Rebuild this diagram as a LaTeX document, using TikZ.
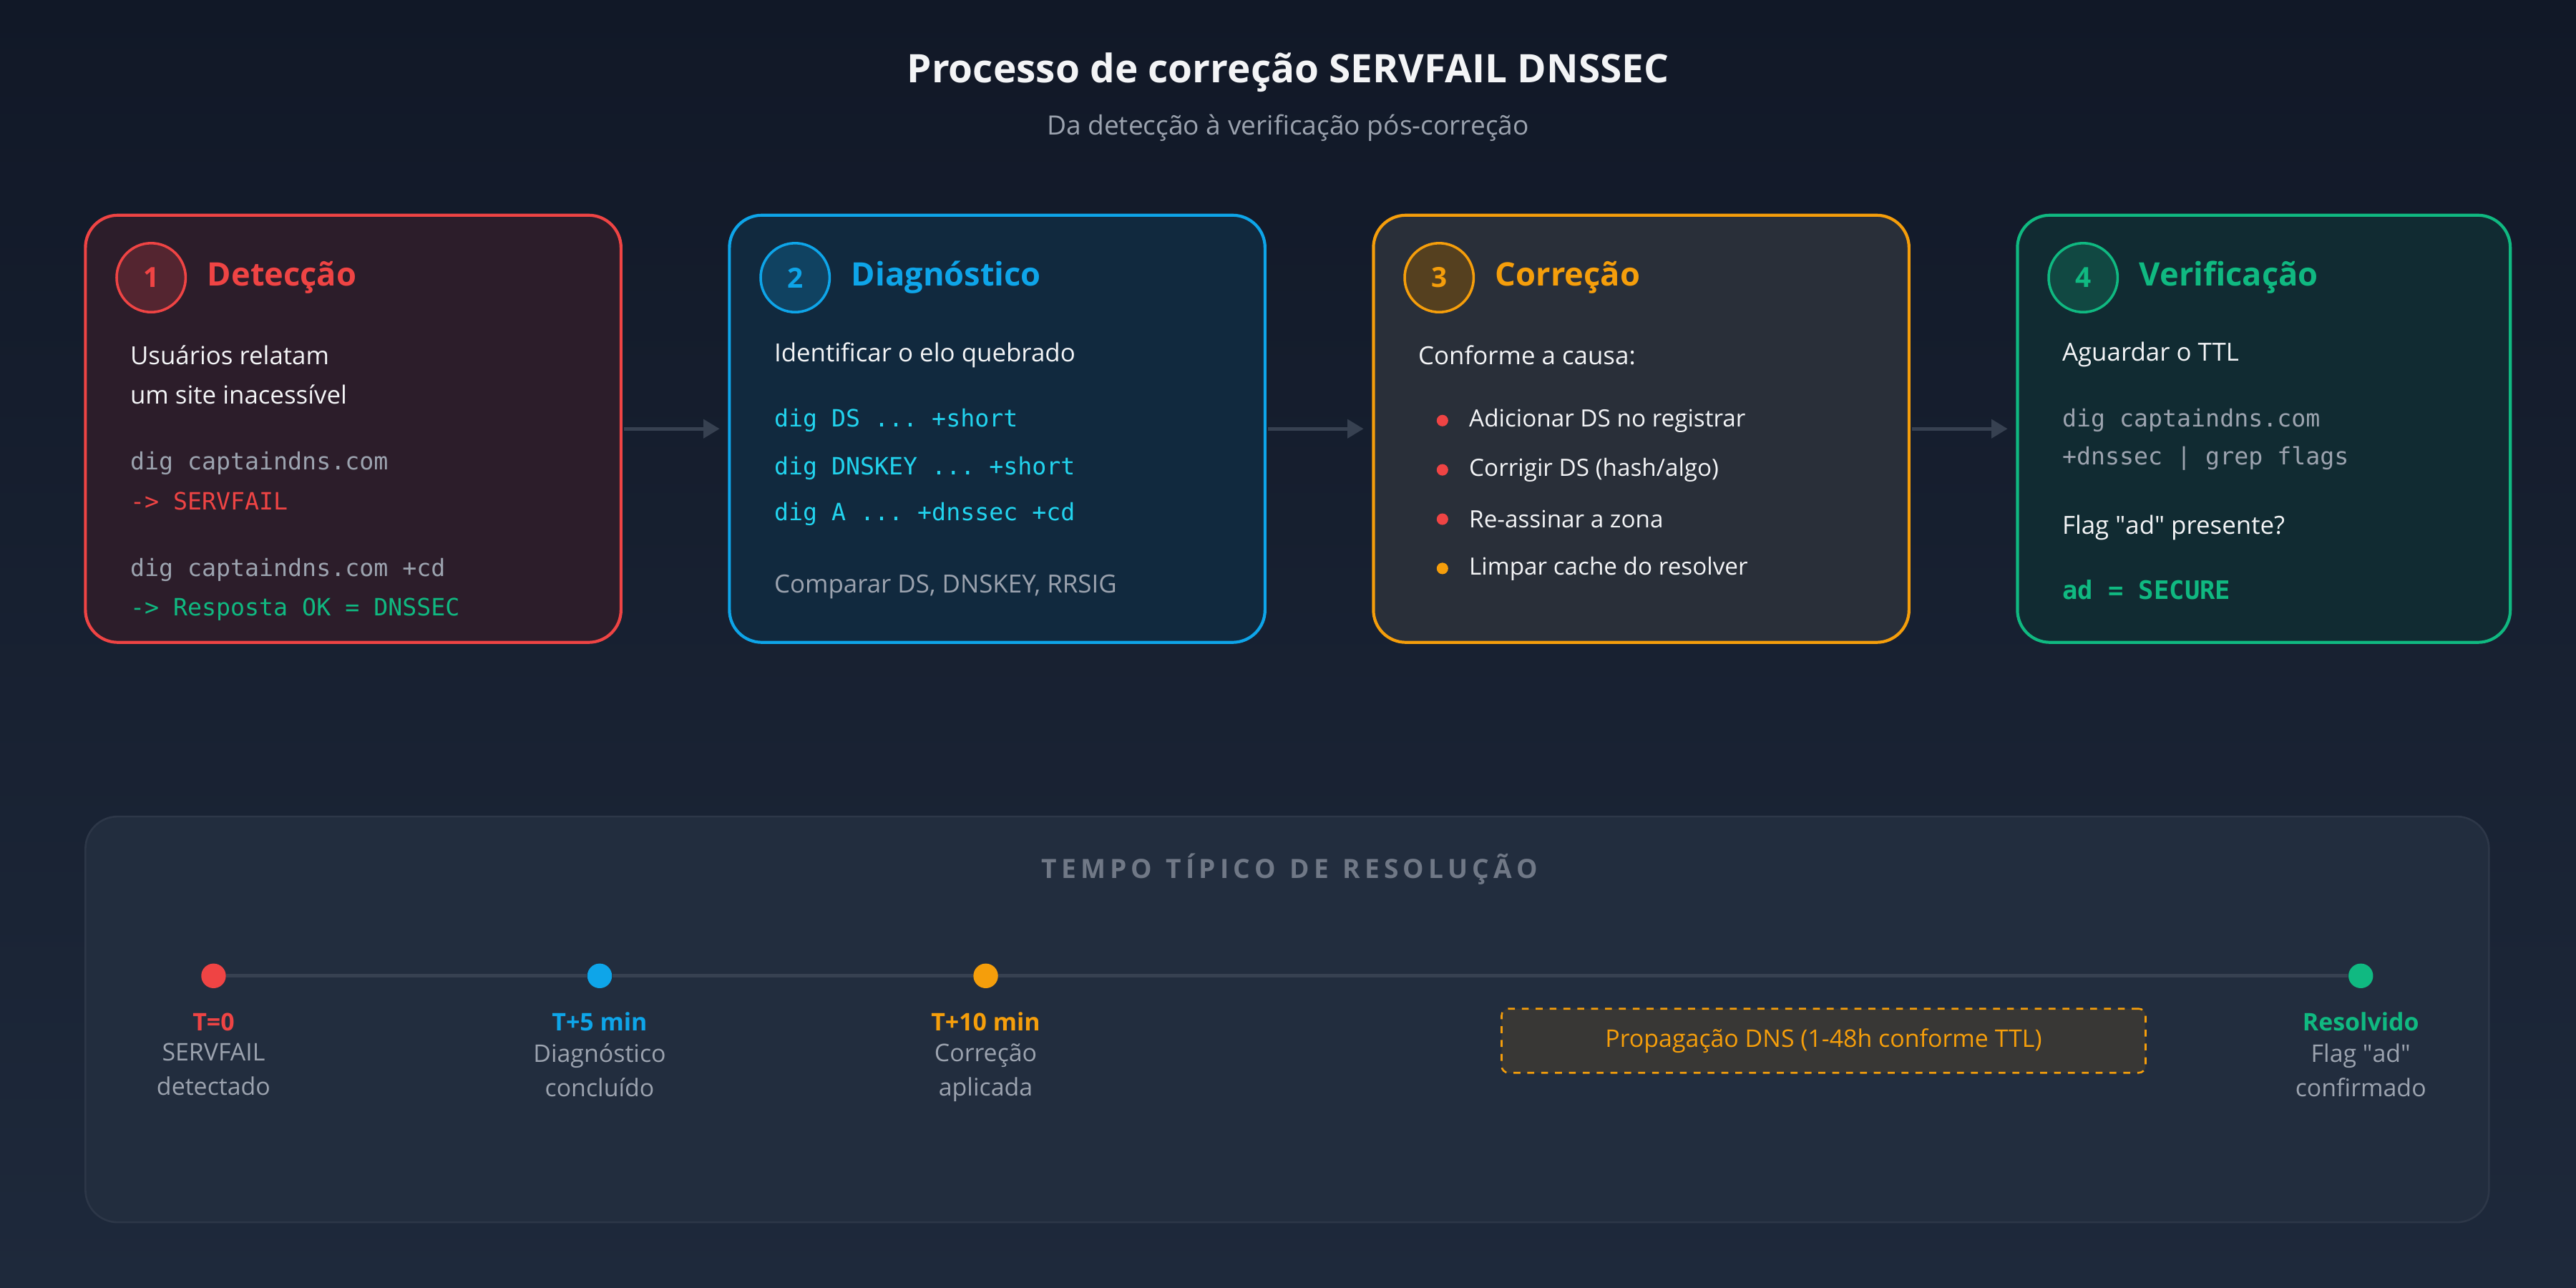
\documentclass[tikz,border=0pt]{standalone}
\usepackage{fontspec}
\setmainfont{Open Sans}
\setmonofont{DejaVu Sans Mono}
\usetikzlibrary{positioning,arrows.meta}

\definecolor{bgA}{HTML}{111827}
\definecolor{bgB}{HTML}{1E293B}
\definecolor{cRed}{HTML}{EF4444}
\definecolor{cBlue}{HTML}{0EA5E9}
\definecolor{cAmber}{HTML}{F59E0B}
\definecolor{cGreen}{HTML}{10B981}
\definecolor{cCyan}{HTML}{22D3EE}
\definecolor{txtW}{HTML}{F3F4F6}
\definecolor{txtG}{HTML}{9CA3AF}
\definecolor{lineG}{HTML}{374151}

\tikzset{
  step/.style={draw=#1, line width=1.3pt, rounded corners=14pt, fill=#1!12!bgA},
  badge/.style={circle, draw=#1, line width=1.1pt, fill=#1!30!bgA, minimum size=42*0.025cm,
    text=#1, font=\fontsize{12}{14}\selectfont\bfseries, inner sep=0pt},
  head/.style={anchor=west, text=#1, font=\fontsize{14}{16}\selectfont\bfseries, inner sep=0pt},
  body/.style={anchor=west, text=txtW, font=\fontsize{10.8}{13}\selectfont, inner sep=0pt},
  mono/.style={anchor=west, text=#1, font=\fontsize{10.3}{12}\ttfamily, inner sep=0pt},
  flow/.style={-{Triangle[length=7pt,width=8pt]}, draw=lineG, line width=1.5pt},
  dot/.style={circle, fill=#1, minimum size=15*0.025cm, inner sep=0pt},
  tlab/.style={text=#1, font=\fontsize{10.5}{12}\selectfont\bfseries, inner sep=0pt},
  tsub/.style={text=txtG, font=\fontsize{10.5}{15}\selectfont, align=center, inner sep=0pt},
}

\begin{document}
\begin{tikzpicture}[x=0.025cm,y=-0.025cm]
% background
\shade[top color=bgA, bottom color=bgB] (0,0) rectangle (1568,784);
\useasboundingbox (0,0) rectangle (1568,784);

% title
\node[text=txtW, font=\fontsize{17}{20}\selectfont\bfseries] (title) at (784,44) {Processo de correção SERVFAIL DNSSEC};
\node[text=txtG, font=\fontsize{11.5}{14}\selectfont] (subtitle) at (784,78) {Da detecção à verificação pós-correção};

%% STEP 1
\draw[step=cRed] (52,131) rectangle (378,391);
\node[badge=cRed] (b1) at (92,169) {1};
\node[head=cRed] (h1) at (126,169) {Detecção};
\node[body] (s1a) at (79,216) {Usuários relatam};
\node[body] (s1b) at (79,240) {um site inacessível};
\node[mono=txtG] (s1c) at (79,282) {dig captaindns.com};
\node[mono=cRed] (s1d) at (79,305) {-> SERVFAIL};
\node[mono=txtG] (s1e) at (79,347) {dig captaindns.com +cd};
\node[mono=cGreen] (s1f) at (79,371) {-> Resposta OK = DNSSEC};

%% STEP 2
\draw[step=cBlue] (444,131) rectangle (770,391);
\node[badge=cBlue] (b2) at (484,169) {2};
\node[head=cBlue] (h2) at (518,169) {Diagnóstico};
\node[body] (s2a) at (471,216) {Identificar o elo quebrado};
\node[mono=cCyan] (s2b) at (471,256) {dig DS ... +short};
\node[mono=cCyan] (s2c) at (471,285) {dig DNSKEY ... +short};
\node[mono=cCyan] (s2d) at (471,313) {dig A ... +dnssec +cd};
\node[body, text=txtG] (s2e) at (471,357) {Comparar DS, DNSKEY, RRSIG};

%% STEP 3
\draw[step=cAmber, fill=cAmber!5!bgB] (836,131) rectangle (1162,391);
\node[badge=cAmber] (b3) at (876,169) {3};
\node[head=cAmber] (h3) at (910,169) {Correção};
\node[body] (s3a) at (863,216) {Conforme a causa:};
\foreach \y/\c/\t [count=\i] in {256/cRed/Adicionar DS no registrar,
    286/cRed/{Corrigir DS (hash/algo)},
    316/cRed/Re-assinar a zona,
    346/cAmber/Limpar cache do resolver}{
  \node[dot=\c, minimum size=7*0.025cm] (d3\i) at (878,\y) {};
  \node[body, font=\fontsize{10.3}{12}\selectfont] (t3\i) at (894,\y) {\t};
}

%% STEP 4
\draw[step=cGreen] (1228,131) rectangle (1528,391);
\node[badge=cGreen] (b4) at (1268,169) {4};
\node[head=cGreen] (h4) at (1302,169) {Verificação};
\node[body] (s4a) at (1255,216) {Aguardar o TTL};
\node[mono=txtG] (s4b) at (1255,256) {dig captaindns.com};
\node[mono=txtG] (s4c) at (1255,279) {+dnssec | grep flags};
\node[body] (s4d) at (1255,321) {Flag \textquotedbl ad\textquotedbl\ presente?};
\node[mono=cGreen, font=\fontsize{11}{13}\ttfamily\bfseries] (s4e) at (1255,359) {ad = SECURE};

% flow arrows
\coordinate (a1) at (380,261); \coordinate (a2) at (438,261);
\coordinate (a3) at (772,261); \coordinate (a4) at (830,261);
\coordinate (a5) at (1164,261); \coordinate (a6) at (1222,261);
\draw[flow] (a1) -- (a2);
\draw[flow] (a3) -- (a4);
\draw[flow] (a5) -- (a6);

%% TIMELINE
\draw[draw=lineG!60!bgB, line width=0.8pt, rounded corners=14pt, fill=bgB!85!lineG] (52,497) rectangle (1515,744);
\node[text=txtG!65!bgB, font=\fontsize{11.5}{14}\selectfont\bfseries] (ttitle) at (785,529)
  {T\,E\,M\,P\,O\ \ T\,Í\,P\,I\,C\,O\ \ D\,E\ \ R\,E\,S\,O\,L\,U\,Ç\,Ã\,O};
\node[dot=cRed] (t0) at (130,594) {};
\node[dot=cBlue] (t5) at (365,594) {};
\node[dot=cAmber] (t10) at (600,594) {};
\node[dot=cGreen] (tend) at (1437,594) {};
\draw[lineG, line width=1.5pt] (t0) -- (t5) -- (t10) -- (tend);

\node[tlab=cRed] (l0) at (130,622) {T=0};
\node[tsub, below=5pt of l0] {SERVFAIL\\detectado};
\node[tlab=cBlue] (l5) at (365,622) {T+5 min};
\node[tsub, below=5pt of l5] {Diagnóstico\\concluído};
\node[tlab=cAmber] (l10) at (600,622) {T+10 min};
\node[tsub, below=5pt of l10] {Correção\\aplicada};
\node[tlab=cGreen] (lend) at (1437,622) {Resolvido};
\node[tsub, below=5pt of lend] {Flag \textquotedbl ad\textquotedbl\\confirmado};

\node[draw=cAmber, dashed, line width=0.8pt, rounded corners=3pt, fill=cAmber!12!bgB,
  minimum width=392*0.025cm, minimum height=39*0.025cm, text=cAmber,
  font=\fontsize{10.5}{12}\selectfont] (prop) at (1110,633.5) {Propagação DNS (1-48h conforme TTL)};
\end{tikzpicture}
\end{document}
